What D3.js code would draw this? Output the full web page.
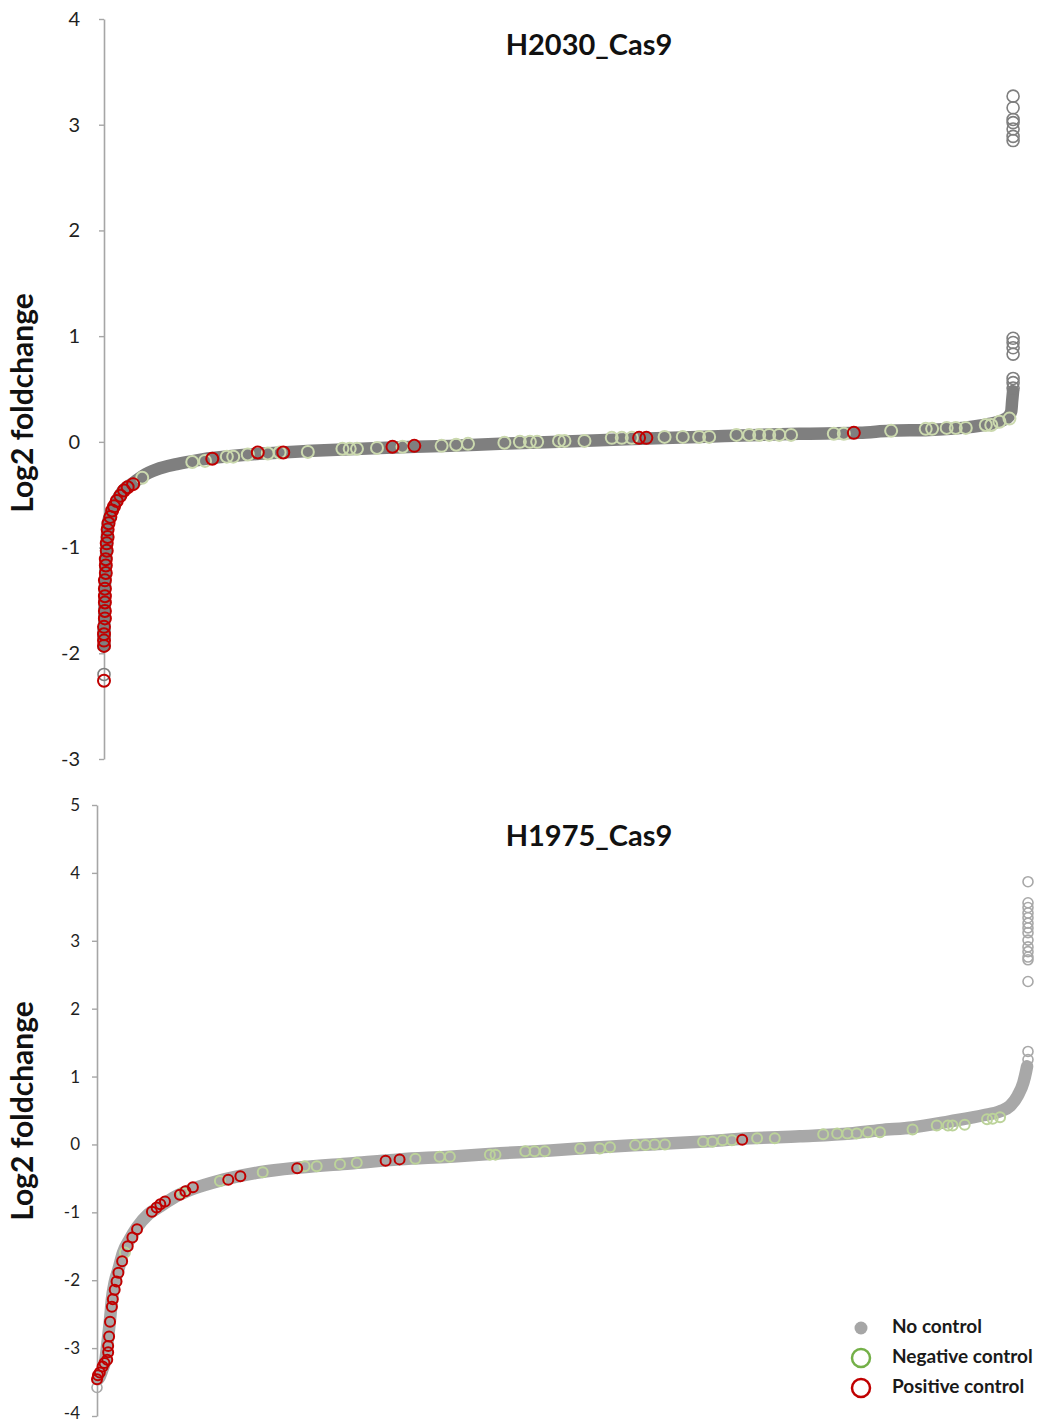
<!DOCTYPE html>
<html>
<head>
<meta charset="utf-8">
<script src="https://cdn.jsdelivr.net/npm/d3@7"></script>
<style>
  body { margin: 0; background: #fff; }
  text { font-family: Lato, "Open Sans", sans-serif; }
</style>
</head>
<body>
<div class="chart"></div>
<script>
// values; x = gene rank (per mille), y = log2 fold change

// ---- H2030_Cas9 ----
const topCurve = [
  [0, -1.93], [0.5, -1.60], [1.2, -1.31], [2, -1.13], [3, -0.94], [4, -0.78],
  [8, -0.67], [12, -0.59], [21, -0.46], [32, -0.39], [43, -0.32], [58, -0.26],
  [80, -0.21], [105, -0.17], [160, -0.12], [229, -0.085], [303, -0.057],
  [380, -0.038], [435, -0.019], [500, 0.0], [581, 0.028], [654, 0.047],
  [720, 0.066], [764, 0.076], [830, 0.085], [863, 0.104], [907, 0.113],
  [943, 0.132], [973, 0.17], [989, 0.21], [994, 0.24], [997, 0.29],
  [998, 0.39], [999, 0.48]
];
const topOutliers = [
  [999, 3.27], [999, 3.16], [999, 3.05], [999, 3.02], [999, 2.96], [999, 2.89],
  [999, 2.85], [999, 0.98], [999, 0.94], [999, 0.89], [999, 0.83], [999, 0.60],
  [999, 0.56], [999, 0.51], [0, -2.20], [0, -1.93], [0, -1.85], [0, -1.78]
];
const topNegative = [
  [42, -0.34], [97, -0.19], [111, -0.18], [135, -0.14], [142, -0.14], [158, -0.12],
  [180, -0.11], [193, -0.10], [224, -0.095], [262, -0.066], [270, -0.066],
  [278, -0.066], [300, -0.057], [328, -0.047], [371, -0.038], [387, -0.028],
  [400, -0.019], [440, -0.009], [457, 0], [468, 0], [476, 0], [500, 0.009],
  [506, 0.009], [528, 0.009], [558, 0.038], [569, 0.038], [580, 0.038],
  [616, 0.047], [636, 0.047], [654, 0.047], [665, 0.047], [695, 0.066],
  [709, 0.066], [720, 0.066], [731, 0.066], [742, 0.066], [755, 0.066],
  [802, 0.076], [813, 0.076], [865, 0.104], [903, 0.123], [910, 0.123],
  [926, 0.132], [936, 0.132], [947, 0.132], [969, 0.16], [975, 0.16],
  [984, 0.19], [995, 0.22]
];
const topPositive = [
  [0, -2.26], [0, -1.93], [0, -1.88], [0, -1.82], [0, -1.75], [1, -1.67],
  [1, -1.60], [1, -1.52], [1, -1.46], [1, -1.39], [1, -1.31], [2, -1.24],
  [2, -1.17], [2, -1.11], [3, -1.03], [3, -0.96], [4, -0.90], [4, -0.83],
  [5, -0.77], [7, -0.71], [9, -0.65], [11, -0.61], [14, -0.56], [18, -0.51],
  [22, -0.46], [26, -0.43], [32, -0.40], [119, -0.16], [169, -0.10],
  [197, -0.10], [317, -0.047], [341, -0.038], [588, 0.038], [596, 0.038],
  [824, 0.085]
];
const topTicks = [-3, -2, -1, 0, 1, 2, 3, 4];

// ---- H1975_Cas9 ----
const botCurve = [
  [1, -3.46], [3, -3.42], [6, -3.31], [9, -3.17], [12, -2.83], [14, -2.58],
  [16, -2.28], [19, -2.03], [23, -1.84], [28, -1.59], [35, -1.40], [43, -1.22],
  [55, -1.03], [68, -0.91], [84, -0.77], [102, -0.66], [130, -0.54], [145, -0.49],
  [175, -0.41], [218, -0.34], [272, -0.28], [325, -0.22], [379, -0.18],
  [433, -0.13], [487, -0.09], [540, -0.04], [594, 0.0], [648, 0.04], [701, 0.09],
  [755, 0.12], [809, 0.16], [841, 0.21], [876, 0.25], [916, 0.34], [952, 0.43],
  [970, 0.49], [981, 0.57], [989, 0.72], [995, 0.91], [998, 1.08], [999, 1.15]
];
const botOutliers = [
  [1000, 1.37], [1000, 1.25], [1000, 3.87], [1000, 3.56], [1000, 3.49],
  [1000, 3.41], [1000, 3.34], [1000, 3.26], [1000, 3.19], [1000, 3.12],
  [1000, 3.01], [1000, 2.91], [1000, 2.84], [1000, 2.76], [1000, 2.72],
  [1000, 2.40], [0, -3.58]
];
const botNegative = [
  [30, -1.59], [92, -0.71], [132, -0.54], [178, -0.41], [223, -0.32], [236, -0.32],
  [261, -0.29], [279, -0.27], [342, -0.21], [368, -0.18], [379, -0.18],
  [422, -0.15], [428, -0.15], [460, -0.10], [470, -0.10], [481, -0.10],
  [519, -0.06], [540, -0.06], [551, -0.04], [578, -0.01], [589, -0.01],
  [599, 0.0], [610, 0.0], [651, 0.04], [661, 0.04], [672, 0.06], [682, 0.06],
  [709, 0.09], [728, 0.09], [780, 0.15], [795, 0.16], [806, 0.16], [816, 0.16],
  [828, 0.18], [841, 0.18], [876, 0.22], [902, 0.28], [914, 0.28], [919, 0.28],
  [932, 0.29], [956, 0.37], [962, 0.38], [970, 0.40]
];
const botPositive = [
  [0, -3.46], [1, -3.40], [3, -3.36], [6, -3.27], [8, -3.22], [11, -3.17],
  [12, -3.06], [12, -2.97], [13, -2.83], [14, -2.61], [16, -2.39], [17, -2.28],
  [19, -2.14], [21, -2.02], [23, -1.89], [27, -1.72], [33, -1.50], [38, -1.37],
  [43, -1.25], [59, -0.99], [64, -0.93], [68, -0.88], [73, -0.84], [89, -0.74],
  [95, -0.69], [103, -0.63], [141, -0.52], [154, -0.47], [215, -0.35],
  [310, -0.24], [325, -0.22], [693, 0.07]
];
const botTicks = [-4, -3, -2, -1, 0, 1, 2, 3, 4, 5];

const legendLabels = ["No control", "Negative control", "Positive control"];

const width = 1038;
const height = 1423;

const svg = d3.select(".chart").append("svg")
    .attr("width", width)
    .attr("height", height);

function drawPanel(opts) {
    const x = d3.scaleLinear().domain([0, 1000]).range(opts.xRange);
    const y = d3.scaleLinear().domain(d3.extent(opts.ticks)).range(opts.yRange);

    // y axis (plain hyphen for negatives, like the original)
    const axis = svg.append("g")
        .attr("transform", `translate(${opts.xRange[0]},0)`)
        .call(d3.axisLeft(y).tickValues(opts.ticks).tickSize(5).tickSizeOuter(0)
            .tickPadding(opts.tickPad).tickFormat(d => String(d)));
    axis.select(".domain").attr("stroke", "#a6a6a6").attr("stroke-width", 1.6);
    axis.selectAll(".tick line").attr("stroke", "#a6a6a6").attr("stroke-width", 1.4);
    axis.selectAll(".tick text")
        .attr("fill", "#1f1f1f")
        .style("font-size", opts.tickFont + "px");
    // keep the lowest label inside the picture
    axis.selectAll(".tick text").filter(d => d === opts.ticks[0])
        .attr("dy", opts.lowDy);

    // dense band of "no control" genes
    svg.append("path")
        .datum(opts.curve)
        .attr("fill", "none")
        .attr("stroke", opts.gray)
        .attr("stroke-width", 12.5)
        .attr("stroke-linecap", "round")
        .attr("stroke-linejoin", "round")
        .attr("d", d3.line().x(d => x(d[0])).y(d => y(d[1])).curve(d3.curveMonotoneX));

    const dots = (data, color, sw) => {
        svg.append("g").selectAll("circle")
            .data(data)
            .enter()
            .append("circle")
            .attr("cx", d => x(d[0]))
            .attr("cy", d => y(d[1]))
            .attr("r", opts.r)
            .attr("fill", "none")
            .attr("stroke", color)
            .attr("stroke-width", sw);
    };
    dots(opts.outliers, opts.gray, 1.6);
    dots(opts.negative, opts.green, 2);
    dots(opts.positive, "#c00000", 2);

    // title
    svg.append("text")
        .attr("x", 589)
        .attr("y", opts.titleY)
        .attr("text-anchor", "middle")
        .attr("dominant-baseline", "middle")
        .style("font-size", "29px")
        .style("font-weight", "bold")
        .attr("fill", "#111")
        .text(opts.title);

    // y axis label
    svg.append("text")
        .attr("transform", `translate(25,${opts.labelY}) rotate(-90)`)
        .attr("text-anchor", "middle")
        .attr("dominant-baseline", "middle")
        .style("font-size", "30px")
        .style("font-weight", "bold")
        .attr("fill", "#111")
        .text("Log2 foldchange");
}

drawPanel({
    title: "H2030_Cas9", titleY: 48, labelY: 403,
    xRange: [104, 1014], yRange: [759, 19], ticks: topTicks,
    tickPad: 19, tickFont: 20, lowDy: "0.32em", r: 6,
    curve: topCurve, outliers: topOutliers, negative: topNegative, positive: topPositive,
    gray: "#7f7f7f", green: "#cbd9ae"
});

drawPanel({
    title: "H1975_Cas9", titleY: 839, labelY: 1111,
    xRange: [97, 1028], yRange: [1416, 805], ticks: botTicks,
    tickPad: 12, tickFont: 17, lowDy: "0.15em", r: 5,
    curve: botCurve, outliers: botOutliers, negative: botNegative, positive: botPositive,
    gray: "#a8a8a8", green: "#bcd39a"
});

// legend
const legend = svg.append("g").attr("transform", "translate(861,1328)");
legendLabels.forEach((label, i) => {
    const row = legend.append("g").attr("transform", `translate(0,${i * 30})`);
    if (i === 0) {
        row.append("circle").attr("r", 6.5).attr("fill", "#a6a6a6");
    } else {
        row.append("circle").attr("r", 9)
            .attr("fill", "none")
            .attr("stroke", i === 1 ? "#74b048" : "#c00000")
            .attr("stroke-width", 2.5);
    }
    row.append("text")
        .attr("x", 31)
        .attr("dominant-baseline", "middle")
        .style("font-size", "19px")
        .style("font-weight", "bold")
        .attr("fill", "#1a1a1a")
        .text(label);
});
</script>
</body>
</html>
